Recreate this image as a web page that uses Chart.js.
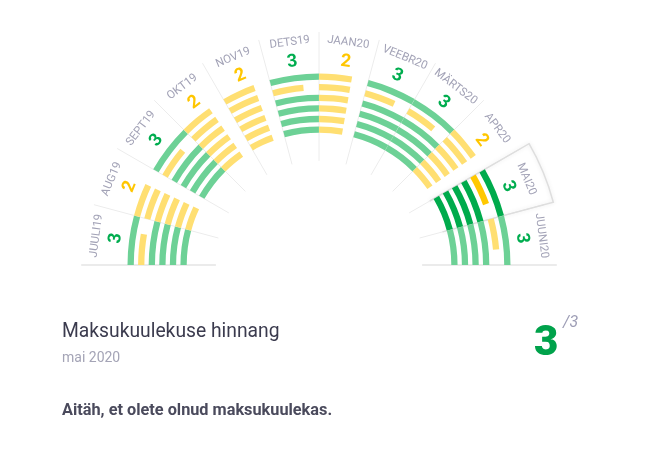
<!DOCTYPE html>
<html lang="et">
<head>
<meta charset="utf-8">
<script src="https://cdn.jsdelivr.net/npm/chart.js@4.4.1/dist/chart.umd.min.js"></script>
<style>
  html, body { margin: 0; padding: 0; background: #fff; }
  body { width: 650px; height: 450px; position: relative; overflow: hidden; font-family: Roboto, sans-serif; }
  #scoreChart { position: absolute; left: 0; top: 0; }
  .txt { position: absolute; white-space: nowrap; }
  .title { left: 62px; top: 321px; font-size: 19.3px; line-height: 19.3px; color: #3b3b4e; }
  .period { left: 62px; top: 349.5px; font-size: 14px; line-height: 14px; color: #a4a4b6; }
  .thanks { left: 62px; top: 402px; font-size: 16.3px; line-height: 16.3px; font-weight: 700; color: #4a4a5c; }
  .big { left: 534px; top: 320px; font-size: 42px; line-height: 42px; font-weight: 900; color: #00a24b; }
  .sub { position: absolute; left: 563px; top: 314px; font-size: 16px; line-height: 16px; font-style: italic; color: #9d9db5; }
</style>
</head>
<body>
<canvas id="scoreChart" width="650" height="450"></canvas>
<div class="txt title">Maksukuulekuse hinnang</div>
<div class="txt period">mai 2020</div>
<div class="txt thanks">Aitäh, et olete olnud maksukuulekas.</div>
<div class="txt big">3</div>
<div class="txt sub">/3</div>

<script>
// months, oldest first (left) to newest (right)
const months = ['JUULI19', 'AUG19', 'SEPT19', 'OKT19', 'NOV19', 'DETS19', 'JAAN20', 'VEEBR20', 'MÄRTS20', 'APR20', 'MAI20', 'JUUNI20'];
const monthScores = [3, 2, 3, 2, 2, 3, 2, 3, 3, 2, 3, 3];
const maxScore = 3;
const selectedMonth = 'MAI20';

// one array per ring, outermost first
const ring1 = [3, 2, 3, 2, 2, 3, 2, 3, 3, 2, 3, 3];
const ring2 = [2, 2, 2, 2, 2, 2, 2, 2, 2, 2, 2, 2];
const ring3 = [3, 2, 3, 2, 2, 3, 2, 3, 3, 2, 3, 3];
const ring4 = [3, 2, 3, 2, 2, 3, 2, 3, 3, 2, 3, 3];
const ring5 = [3, 2, 3, 2, 2, 3, 2, 3, 3, 2, 3, 3];
const ring6 = [3, 2, 3, 2, 2, 3, 2, 3, 3, 2, 3, 3];
const rings = [ring1, ring2, ring3, ring4, ring5, ring6];

const colors = {
    green: '#6dd196', yellow: '#ffdf72',
    greenDark: '#00ab4c', yellowDark: '#ffc800',
    scoreGreen: '#00ad4f', scoreYellow: '#ffc600',
    label: '#a2a2b6', grid: '#ececec', base: '#e4e4e4'
};

const selIdx = months.indexOf(selectedMonth);

function arcColor(v, i) {
    const dark = i === selIdx;
    if (v >= maxScore) return dark ? colors.greenDark : colors.green;
    return dark ? colors.yellowDark : colors.yellow;
}

const datasets = [];
rings.forEach((ring, k) => {
    if (k > 0) datasets.push({ data: [1], backgroundColor: 'transparent', weight: 4.3 });
    datasets.push({
        data: ring.flatMap(v => [v, maxScore - v]),
        backgroundColor: ring.flatMap((v, i) => [arcColor(v, i), 'transparent']),
        weight: 6.3
    });
});

function polar(cx, cy, r, a) {
    return [cx + r * Math.cos(a), cy + r * Math.sin(a)];
}

const ringDecor = {
    id: 'ringDecor',
    beforeDatasetsDraw(chart) {
        const arcs = chart.getDatasetMeta(0).data;
        const { x: cx, y: cy, outerRadius: R } = arcs[0];
        const ctx = chart.ctx;
        const bounds = months.map((m, i) => arcs[2 * i].startAngle);
        bounds.push(arcs[arcs.length - 1].endAngle);

        ctx.save();
        bounds.forEach((a, i) => {
            const end = i === 0 || i === bounds.length - 1;
            const [x1, y1] = polar(cx, cy, R * (end ? 0.54 : 0.545), a);
            const [x2, y2] = polar(cx, cy, R * (end ? 1.245 : 1.22), a);
            ctx.strokeStyle = end ? colors.base : colors.grid;
            ctx.lineWidth = end ? 1.5 : 1;
            ctx.beginPath();
            ctx.moveTo(x1, y1);
            ctx.lineTo(x2, y2);
            ctx.stroke();
        });

        // box round the selected month
        const a0 = arcs[2 * selIdx].startAngle, a1 = arcs[2 * selIdx + 1].endAngle;
        const rIn = R * 0.67, rOut = R * 1.27;
        ctx.strokeStyle = '#dedede';
        ctx.lineWidth = 1.5;
        ctx.shadowColor = 'rgba(0,0,0,0.10)';
        ctx.shadowBlur = 4;
        ctx.beginPath();
        ctx.moveTo(...polar(cx, cy, rIn, a0));
        ctx.lineTo(...polar(cx, cy, rOut, a0));
        ctx.arc(cx, cy, rOut, a0, a1);
        ctx.lineTo(...polar(cx, cy, rIn, a1));
        ctx.stroke();
        ctx.restore();
    },
    afterDatasetsDraw(chart) {
        const arcs = chart.getDatasetMeta(0).data;
        const { x: cx, y: cy, outerRadius: R } = arcs[0];
        const ctx = chart.ctx;
        ctx.save();
        ctx.textAlign = 'center';
        ctx.textBaseline = 'middle';
        months.forEach((m, i) => {
            const mid = (arcs[2 * i].startAngle + arcs[2 * i + 1].endAngle) / 2;
            [[m, R * 1.175, '11.5px Roboto', colors.label],
             [String(monthScores[i]), R * 1.072, 'bold 18px Roboto',
              monthScores[i] >= maxScore ? colors.scoreGreen : colors.scoreYellow]
            ].forEach(([text, r, font, color]) => {
                const [px, py] = polar(cx, cy, r, mid);
                ctx.save();
                ctx.translate(px, py);
                ctx.rotate(mid + Math.PI / 2);
                ctx.font = font;
                ctx.fillStyle = color;
                ctx.fillText(text, 0, 0);
                ctx.restore();
            });
        });
        ctx.restore();
    }
};

new Chart(document.getElementById('scoreChart'), {
    type: 'doughnut',
    data: { labels: months.flatMap(m => [m, '']), datasets },
    options: {
        responsive: false,
        animation: false,
        events: [],
        rotation: -90,
        circumference: 180,
        radius: 191,
        cutout: '69%',
        borderWidth: 0,
        spacing: 1,
        layout: { padding: { left: 0, right: 12, top: 0, bottom: 111 } },
        plugins: { legend: { display: false }, tooltip: { enabled: false } }
    },
    plugins: [ringDecor]
});
</script>
</body>
</html>
